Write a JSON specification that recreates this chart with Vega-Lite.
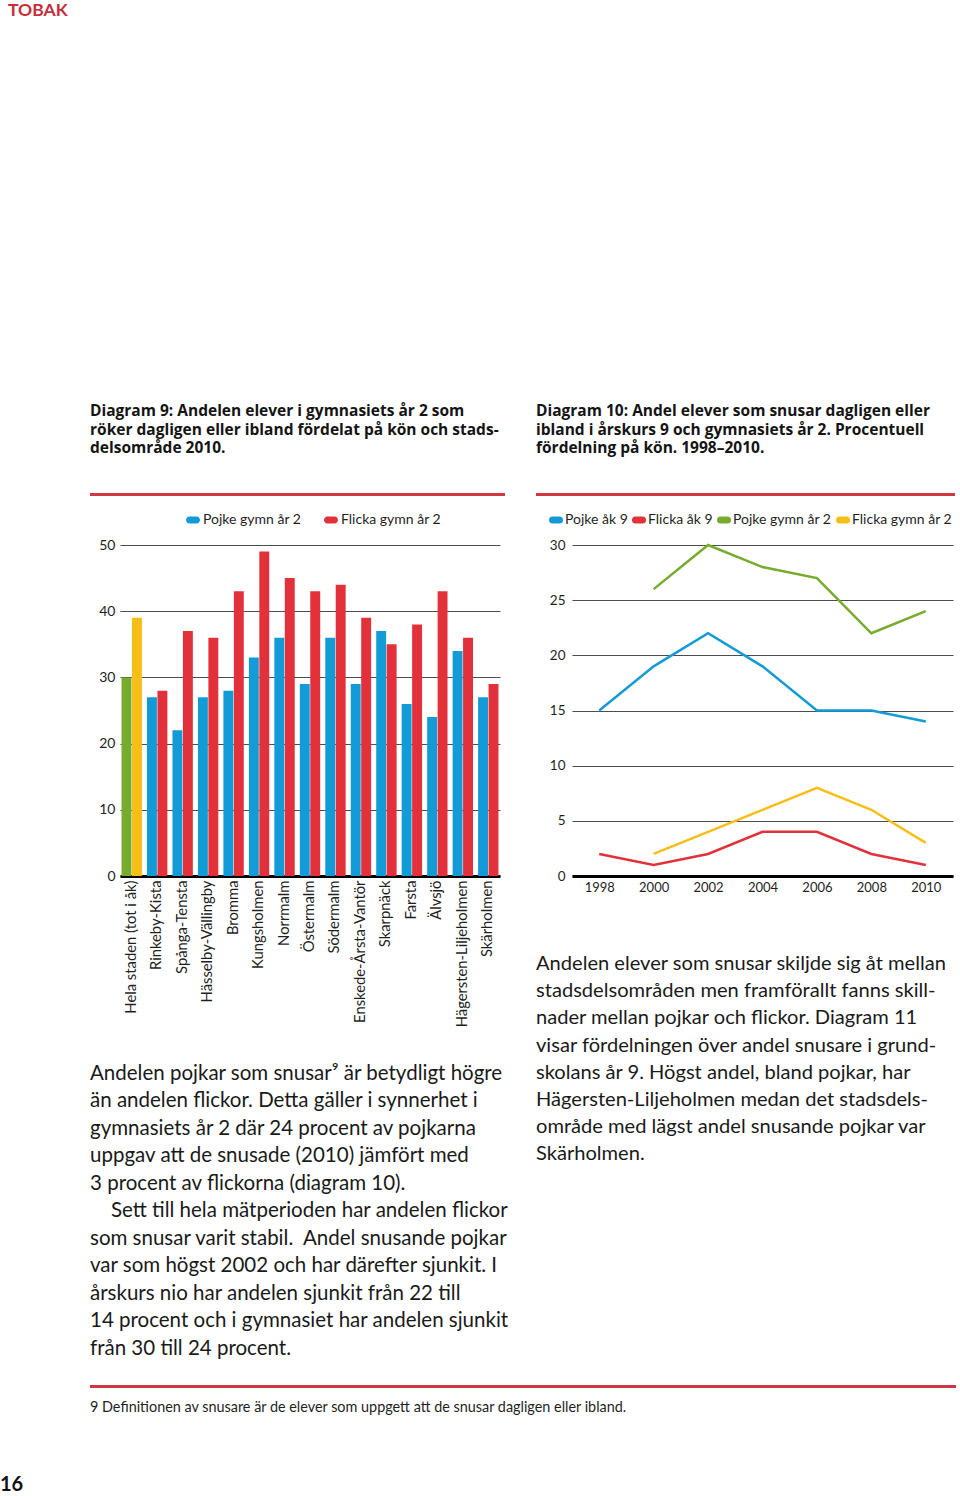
{
  "$schema": "https://vega.github.io/schema/vega-lite/v6.json",
  "background": "#ffffff",
  "padding": {"left": 0, "top": 2, "right": 0, "bottom": 0},
  "config": {
    "font": "Lato",
    "view": {"stroke": null},
    "axis": {"labelFont": "Lato", "labelColor": "#1f1f1f"},
    "legend": {"labelFont": "Lato"},
    "title": {"font": "Lato", "color": "#141414"}
  },
  "title": {"text": "16", "orient": "bottom", "anchor": "start", "frame": "group", "dx": -90, "offset": 61, "fontSize": 20, "fontWeight": "bold", "color": "#111111"},
  "spacing": 3,
  "vconcat": [
    {
      "title": {"text": "TOBAK", "anchor": "start", "frame": "group", "dx": -82, "offset": 384, "fontSize": 17.5, "fontWeight": "bold", "color": "#c62e3a"},
      "spacing": 26,
      "resolve": {"scale": {"color": "independent"}, "legend": {"color": "independent"}},
      "hconcat": [
        {
          "spacing": 17,
          "resolve": {"scale": {"color": "independent"}, "legend": {"color": "independent"}},
          "vconcat": [
            {
              "width": 415,
              "height": 3,
              "view": {"fill": "#d0383f", "stroke": null},
              "title": {"text": ["Diagram 9: Andelen elever i gymnasiets år 2 som", "röker dagligen eller ibland fördelat på kön och stads-", "delsområde 2010."], "anchor": "start", "frame": "group", "offset": 36, "font": "Open Sans", "fontSize": 15.5, "fontWeight": "bold", "lineHeight": 18.8, "color": "#141414"},
              "data": {"values": []},
              "mark": "rule",
              "encoding": {}
            },
            {
              "width": 415,
              "height": 331,
              "data": {"values": [
                {"omrade": "Hela staden (tot i åk)", "kon": "Pojke", "serie": "Pojke hela staden", "andel": 30},
                {"omrade": "Hela staden (tot i åk)", "kon": "Flicka", "serie": "Flicka hela staden", "andel": 39},
                {"omrade": "Rinkeby-Kista", "kon": "Pojke", "serie": "Pojke gymn år 2", "andel": 27},
                {"omrade": "Rinkeby-Kista", "kon": "Flicka", "serie": "Flicka gymn år 2", "andel": 28},
                {"omrade": "Spånga-Tensta", "kon": "Pojke", "serie": "Pojke gymn år 2", "andel": 22},
                {"omrade": "Spånga-Tensta", "kon": "Flicka", "serie": "Flicka gymn år 2", "andel": 37},
                {"omrade": "Hässelby-Vällingby", "kon": "Pojke", "serie": "Pojke gymn år 2", "andel": 27},
                {"omrade": "Hässelby-Vällingby", "kon": "Flicka", "serie": "Flicka gymn år 2", "andel": 36},
                {"omrade": "Bromma", "kon": "Pojke", "serie": "Pojke gymn år 2", "andel": 28},
                {"omrade": "Bromma", "kon": "Flicka", "serie": "Flicka gymn år 2", "andel": 43},
                {"omrade": "Kungsholmen", "kon": "Pojke", "serie": "Pojke gymn år 2", "andel": 33},
                {"omrade": "Kungsholmen", "kon": "Flicka", "serie": "Flicka gymn år 2", "andel": 49},
                {"omrade": "Norrmalm", "kon": "Pojke", "serie": "Pojke gymn år 2", "andel": 36},
                {"omrade": "Norrmalm", "kon": "Flicka", "serie": "Flicka gymn år 2", "andel": 45},
                {"omrade": "Östermalm", "kon": "Pojke", "serie": "Pojke gymn år 2", "andel": 29},
                {"omrade": "Östermalm", "kon": "Flicka", "serie": "Flicka gymn år 2", "andel": 43},
                {"omrade": "Södermalm", "kon": "Pojke", "serie": "Pojke gymn år 2", "andel": 36},
                {"omrade": "Södermalm", "kon": "Flicka", "serie": "Flicka gymn år 2", "andel": 44},
                {"omrade": "Enskede-Årsta-Vantör", "kon": "Pojke", "serie": "Pojke gymn år 2", "andel": 29},
                {"omrade": "Enskede-Årsta-Vantör", "kon": "Flicka", "serie": "Flicka gymn år 2", "andel": 39},
                {"omrade": "Skarpnäck", "kon": "Pojke", "serie": "Pojke gymn år 2", "andel": 37},
                {"omrade": "Skarpnäck", "kon": "Flicka", "serie": "Flicka gymn år 2", "andel": 35},
                {"omrade": "Farsta", "kon": "Pojke", "serie": "Pojke gymn år 2", "andel": 26},
                {"omrade": "Farsta", "kon": "Flicka", "serie": "Flicka gymn år 2", "andel": 38},
                {"omrade": "Älvsjö", "kon": "Pojke", "serie": "Pojke gymn år 2", "andel": 24},
                {"omrade": "Älvsjö", "kon": "Flicka", "serie": "Flicka gymn år 2", "andel": 43},
                {"omrade": "Hägersten-Liljeholmen", "kon": "Pojke", "serie": "Pojke gymn år 2", "andel": 34},
                {"omrade": "Hägersten-Liljeholmen", "kon": "Flicka", "serie": "Flicka gymn år 2", "andel": 36},
                {"omrade": "Skärholmen", "kon": "Pojke", "serie": "Pojke gymn år 2", "andel": 27},
                {"omrade": "Skärholmen", "kon": "Flicka", "serie": "Flicka gymn år 2", "andel": 29}
              ]},
              "mark": {"type": "bar"},
              "encoding": {
                "x": {
                  "field": "omrade", "type": "nominal", "sort": null, "title": null,
                  "scale": {"range": [30, 410], "paddingInner": 0.2, "paddingOuter": 0.06},
                  "axis": {"labelAngle": -90, "labelFontSize": 14.8, "labelPadding": 4, "ticks": false, "domain": true, "domainColor": "#000000", "domainWidth": 3, "grid": false, "labelLimit": 300}
                },
                "xOffset": {"field": "kon", "sort": ["Pojke", "Flicka"], "scale": {"paddingInner": 0.05}},
                "y": {
                  "field": "andel", "type": "quantitative", "title": null,
                  "scale": {"domain": [0, 50]},
                  "axis": {"values": [0, 10, 20, 30, 40, 50], "grid": true, "gridColor": "#4d4d4d", "gridWidth": 1, "domain": false, "ticks": false, "labelPadding": -25, "labelFontSize": 14}
                },
                "color": {
                  "field": "serie", "type": "nominal",
                  "scale": {"domain": ["Pojke gymn år 2", "Flicka gymn år 2", "Pojke hela staden", "Flicka hela staden"], "range": ["#139bd7", "#e2313b", "#77ab2d", "#f8be18"]},
                  "legend": {"orient": "none", "legendX": 96, "legendY": -32, "direction": "horizontal", "title": null, "values": ["Pojke gymn år 2", "Flicka gymn år 2"], "symbolType": "M-0.5,-0.5L0.5,-0.5A0.5,0.5,0,0,1,0.5,0.5L-0.5,0.5A0.5,0.5,0,0,1,-0.5,-0.5Z", "symbolSize": 196, "symbolOpacity": 1, "symbolStrokeWidth": 0, "labelFontSize": 14, "labelColor": "#1f1f1f", "columnPadding": 22, "labelOffset": 3, "padding": 0}
                }
              }
            },
            {
              "width": 420,
              "height": 338,
              "data": {"values": [
                {"rad": 1, "text": "Andelen pojkar som snusar⁹ är betydligt högre"},
                {"rad": 2, "text": "än andelen flickor. Detta gäller i synnerhet i"},
                {"rad": 3, "text": "gymnasiets år 2 där 24 procent av pojkarna"},
                {"rad": 4, "text": "uppgav att de snusade (2010) jämfört med"},
                {"rad": 5, "text": "3 procent av flickorna (diagram 10)."},
                {"rad": 6, "text": "\u200b\u00a0\u00a0\u00a0\u00a0Sett till hela mätperioden har andelen flickor"},
                {"rad": 7, "text": "som snusar varit stabil.\u00a0 Andel snusande pojkar"},
                {"rad": 8, "text": "var som högst 2002 och har därefter sjunkit. I"},
                {"rad": 9, "text": "årskurs nio har andelen sjunkit från 22 till"},
                {"rad": 10, "text": "14 procent och i gymnasiet har andelen sjunkit"},
                {"rad": 11, "text": "från 30 till 24 procent."}
              ]},
              "mark": {"type": "text", "align": "left", "baseline": "middle", "fontSize": 20.5, "color": "#1a1a1a"},
              "encoding": {
                "y": {"field": "rad", "type": "quantitative", "axis": null, "scale": {"domain": [-0.073, 12.218], "reverse": true, "nice": false, "zero": false}},
                "x": {"datum": 0, "type": "quantitative", "scale": {"domain": [0, 1]}, "axis": null},
                "text": {"field": "text"}
              }
            }
          ]
        },
        {
          "spacing": 17,
          "resolve": {"scale": {"color": "independent"}, "legend": {"color": "independent"}},
          "vconcat": [
            {
              "width": 419,
              "height": 3,
              "view": {"fill": "#d0383f", "stroke": null},
              "title": {"text": ["Diagram 10: Andel elever som snusar dagligen eller", "ibland i årskurs 9 och gymnasiets år 2. Procentuell", "fördelning på kön. 1998–2010."], "anchor": "start", "frame": "group", "offset": 36, "font": "Open Sans", "fontSize": 15.5, "fontWeight": "bold", "lineHeight": 18.8, "color": "#141414"},
              "data": {"values": []},
              "mark": "rule",
              "encoding": {}
            },
            {
              "width": 419,
              "height": 331,
              "data": {"values": [
                {"serie": "Pojke åk 9", "ar": 1998, "andel": 15},
                {"serie": "Pojke åk 9", "ar": 2000, "andel": 19},
                {"serie": "Pojke åk 9", "ar": 2002, "andel": 22},
                {"serie": "Pojke åk 9", "ar": 2004, "andel": 19},
                {"serie": "Pojke åk 9", "ar": 2006, "andel": 15},
                {"serie": "Pojke åk 9", "ar": 2008, "andel": 15},
                {"serie": "Pojke åk 9", "ar": 2010, "andel": 14},
                {"serie": "Flicka åk 9", "ar": 1998, "andel": 2},
                {"serie": "Flicka åk 9", "ar": 2000, "andel": 1},
                {"serie": "Flicka åk 9", "ar": 2002, "andel": 2},
                {"serie": "Flicka åk 9", "ar": 2004, "andel": 4},
                {"serie": "Flicka åk 9", "ar": 2006, "andel": 4},
                {"serie": "Flicka åk 9", "ar": 2008, "andel": 2},
                {"serie": "Flicka åk 9", "ar": 2010, "andel": 1},
                {"serie": "Pojke gymn år 2", "ar": 2000, "andel": 26},
                {"serie": "Pojke gymn år 2", "ar": 2002, "andel": 30},
                {"serie": "Pojke gymn år 2", "ar": 2004, "andel": 28},
                {"serie": "Pojke gymn år 2", "ar": 2006, "andel": 27},
                {"serie": "Pojke gymn år 2", "ar": 2008, "andel": 22},
                {"serie": "Pojke gymn år 2", "ar": 2010, "andel": 24},
                {"serie": "Flicka gymn år 2", "ar": 2000, "andel": 2},
                {"serie": "Flicka gymn år 2", "ar": 2002, "andel": 4},
                {"serie": "Flicka gymn år 2", "ar": 2004, "andel": 6},
                {"serie": "Flicka gymn år 2", "ar": 2006, "andel": 8},
                {"serie": "Flicka gymn år 2", "ar": 2008, "andel": 6},
                {"serie": "Flicka gymn år 2", "ar": 2010, "andel": 3}
              ]},
              "mark": {"type": "line", "strokeWidth": 2.5},
              "encoding": {
                "x": {
                  "field": "ar", "type": "quantitative", "title": null,
                  "scale": {"domain": [1997, 2011], "range": [36, 417], "nice": false, "zero": false},
                  "axis": {"values": [1998, 2000, 2002, 2004, 2006, 2008, 2010], "format": "d", "grid": false, "ticks": false, "domain": true, "domainColor": "#000000", "domainWidth": 3, "labelPadding": 5, "labelFontSize": 13}
                },
                "y": {
                  "field": "andel", "type": "quantitative", "title": null,
                  "scale": {"domain": [0, 30]},
                  "axis": {"values": [0, 5, 10, 15, 20, 25, 30], "grid": true, "gridColor": "#4d4d4d", "gridWidth": 1, "domain": false, "ticks": false, "labelPadding": -29, "labelFontSize": 13.5}
                },
                "color": {
                  "field": "serie", "type": "nominal",
                  "scale": {"domain": ["Pojke åk 9", "Flicka åk 9", "Pojke gymn år 2", "Flicka gymn år 2"], "range": ["#139bd7", "#e2313b", "#77ab2d", "#f8be18"]},
                  "legend": {"orient": "none", "legendX": 13, "legendY": -32, "direction": "horizontal", "title": null, "symbolType": "M-1,0L1,0", "symbolSize": 49, "symbolOpacity": 1, "symbolStrokeWidth": 7, "labelFontSize": 14, "labelColor": "#1f1f1f", "columnPadding": -7, "labelOffset": 2, "padding": 0, "encode": {"symbols": {"update": {"strokeCap": {"value": "round"}}}}}
                }
              }
            },
            {
              "width": 419,
              "height": 270.6,
              "data": {"values": [
                {"rad": 1, "text": "Andelen elever som snusar skiljde sig åt mellan"},
                {"rad": 2, "text": "stadsdelsområden men framförallt fanns skill-"},
                {"rad": 3, "text": "nader mellan pojkar och flickor. Diagram 11"},
                {"rad": 4, "text": "visar fördelningen över andel snusare i grund-"},
                {"rad": 5, "text": "skolans år 9. Högst andel, bland pojkar, har"},
                {"rad": 6, "text": "Hägersten-Liljeholmen medan det stadsdels-"},
                {"rad": 7, "text": "område med lägst andel snusande pojkar var"},
                {"rad": 8, "text": "Skärholmen."}
              ]},
              "mark": {"type": "text", "align": "left", "baseline": "middle", "fontSize": 20.1, "color": "#1a1a1a"},
              "encoding": {
                "y": {"field": "rad", "type": "quantitative", "axis": null, "scale": {"domain": [-0.95, 9], "reverse": true, "nice": false, "zero": false}},
                "x": {"datum": 0, "type": "quantitative", "scale": {"domain": [0, 1]}, "axis": null},
                "text": {"field": "text"}
              }
            }
          ]
        }
      ]
    },
    {
      "width": 866,
      "height": 3,
      "view": {"fill": "#d0383f", "stroke": null},
      "title": {"text": "9 Definitionen av snusare är de elever som uppgett att de snusar dagligen eller ibland.", "orient": "bottom", "anchor": "start", "frame": "group", "offset": 12.5, "fontSize": 14.4, "fontWeight": "normal", "color": "#1f1f1f"},
      "data": {"values": []},
      "mark": "rule",
      "encoding": {}
    }
  ]
}
